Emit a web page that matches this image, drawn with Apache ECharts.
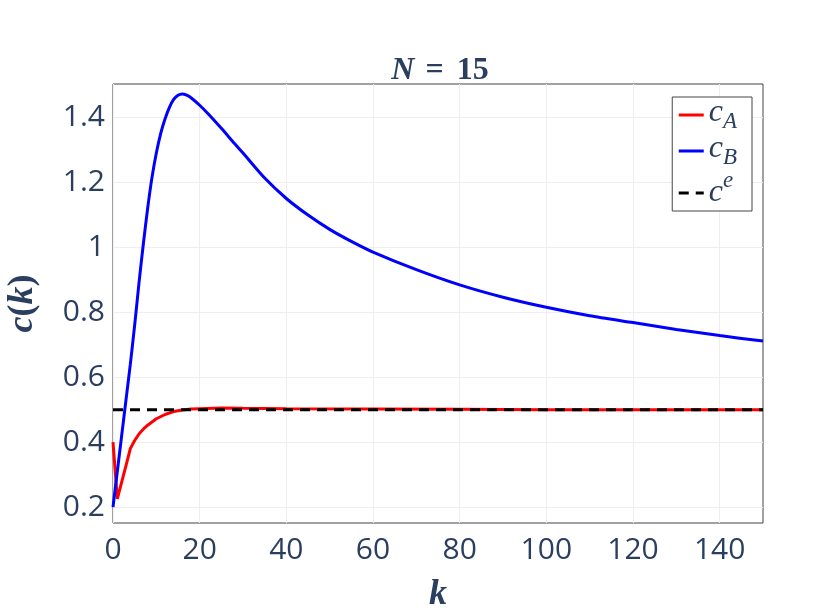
<!DOCTYPE html>
<html>
<head>
<meta charset="utf-8">
<script src="https://cdn.jsdelivr.net/npm/echarts@6/dist/echarts.min.js"></script>
<style>html,body{margin:0;padding:0;background:#fff;}#c{width:831px;height:610px;}</style>
</head>
<body>
<div id="c"></div>
<script>
// Data
const kB = [0,1,2,3,4,5,6,7,8,9,10,11,12,13,14,15,16,17,18,20,22,25,28,30,35,40,45,50,55,60,70,80,90,100,110,120,130,140,150];
const cB = [0.20,0.31,0.42,0.53,0.64,0.76,0.89,1.01,1.12,1.215,1.29,1.35,1.395,1.43,1.455,1.468,1.472,1.468,1.46,1.437,1.41,1.366,1.32,1.29,1.213,1.15,1.099,1.055,1.018,0.985,0.931,0.884,0.846,0.815,0.789,0.768,0.747,0.728,0.711];
const kA = [0,1,2,3,4,5,6,7,8,10,12,14,16,18,20,25,30,40,60,80,100,150];
const cA = [0.40,0.225,0.277,0.328,0.38,0.405,0.425,0.44,0.452,0.472,0.485,0.494,0.499,0.502,0.503,0.505,0.504,0.503,0.502,0.501,0.500,0.500];
const kE = [0,150];
const cE = [0.5,0.5];
const xTicks = [0,20,40,60,80,100,120,140];
const yTicks = [0.2,0.4,0.6,0.8,1.0,1.2,1.4];
const seriesNames = ['cA','cB','ce'];

const txt = '#2a3f5f';
const serif = 'Liberation Serif';
const zip = (a,b) => a.map((v,i)=>[v,b[i]]);

const chart = echarts.init(document.getElementById('c'));
chart.setOption({
  backgroundColor: '#fff',
  animation: false,
  title: {
    text: '{i|N}{e|=}{r|15}',
    left: 435, top: 50, textAlign: 'center',
    textStyle: {
      color: txt, fontFamily: serif, fontSize: 32, fontWeight: 'bold',
      rich: {
        i: { fontFamily: serif, fontStyle: 'italic', fontWeight: 'bold', fontSize: 32, color: txt },
        e: { fontFamily: serif, fontWeight: 'bold', fontSize: 32, color: txt, padding: [0, 13, 0, 11] },
        r: { fontFamily: serif, fontWeight: 'bold', fontSize: 32, color: txt }
      }
    }
  },
  grid: { left: 113, right: 68, top: 84, bottom: 87, show: true, borderColor: '#444', borderWidth: 1, outerBoundsMode: 'none', containLabel: false },
  legend: {
    orient: 'vertical', right: 79, top: 97,
    backgroundColor: '#fff', borderColor: '#444', borderWidth: 1,
    padding: [0, 15, 0, 5], itemGap: 0, itemWidth: 25, itemHeight: 14,
    itemStyle: { color: 'rgba(0,0,0,0)', borderWidth: 0, opacity: 0 },
    lineStyle: { width: 3 },
    data: seriesNames,
    formatter: function (n) {
      if (n === 'cA') return '{c|c}{sub|A}';
      if (n === 'cB') return '{c|c}{sub|B}';
      return '{c2|c}{sup|e}';
    },
    textStyle: {
      color: txt, lineHeight: 36,
      rich: {
        c: { fontFamily: serif, fontStyle: 'italic', fontSize: 32, color: txt, lineHeight: 36, verticalAlign: 'top', padding: [0,0,0,0] },
        c2: { fontFamily: serif, fontStyle: 'italic', fontSize: 32, color: txt, lineHeight: 36, verticalAlign: 'bottom', padding: [0,0,2,0] },
        sub: { fontFamily: serif, fontStyle: 'italic', fontSize: 23, color: txt, lineHeight: 36, verticalAlign: 'bottom', padding: [0,0,0,0] },
        sup: { fontFamily: serif, fontStyle: 'italic', fontSize: 23, color: txt, lineHeight: 36, verticalAlign: 'top', padding: [-6,0,0,0] }
      }
    }
  },
  xAxis: {
    type: 'value', min: 0, max: 150,
    name: 'k', nameLocation: 'middle', nameGap: 54,
    nameTextStyle: { fontFamily: serif, fontStyle: 'italic', fontWeight: 'bold', fontSize: 36, color: txt },
    axisLine: { show: false }, axisTick: { show: false, customValues: xTicks },
    axisLabel: { customValues: xTicks, color: txt, fontFamily: 'Open Sans', fontSize: 30, margin: 12 },
    splitLine: { show: true, lineStyle: { color: '#eeeeee', width: 1 } }
  },
  yAxis: {
    type: 'value', min: 0.151, max: 1.5025,
    name: '{b|c}{p|(}{b|k}{p|)}', nameLocation: 'middle', nameGap: 72, nameRotate: 90,
    nameTextStyle: {
      color: txt, fontFamily: serif,
      rich: {
        b: { fontFamily: serif, fontStyle: 'italic', fontWeight: 'bold', fontSize: 36, color: txt },
        p: { fontFamily: serif, fontWeight: 'bold', fontSize: 36, color: txt }
      }
    },
    axisLine: { show: false }, axisTick: { show: false, customValues: yTicks },
    axisLabel: { customValues: yTicks, color: txt, fontFamily: 'Open Sans', fontSize: 30, margin: 8,
      formatter: v => String(+(+v).toFixed(1)) },
    splitLine: { show: true, lineStyle: { color: '#eeeeee', width: 1 } }
  },
  series: [
    { name: 'cA', type: 'line', data: zip(kA, cA), showSymbol: false, symbol: 'none',
      lineStyle: { color: '#ff0000', width: 3 }, itemStyle: { color: '#ff0000' } },
    { name: 'cB', type: 'line', data: zip(kB, cB), showSymbol: false, symbol: 'none', smooth: 0.25,
      lineStyle: { color: '#0000ff', width: 3 }, itemStyle: { color: '#0000ff' } },
    { name: 'ce', type: 'line', data: zip(kE, cE), showSymbol: false, symbol: 'none',
      lineStyle: { color: '#000000', width: 3, type: [10, 7] }, itemStyle: { color: '#000000' } }
  ]
});
</script>
</body>
</html>
